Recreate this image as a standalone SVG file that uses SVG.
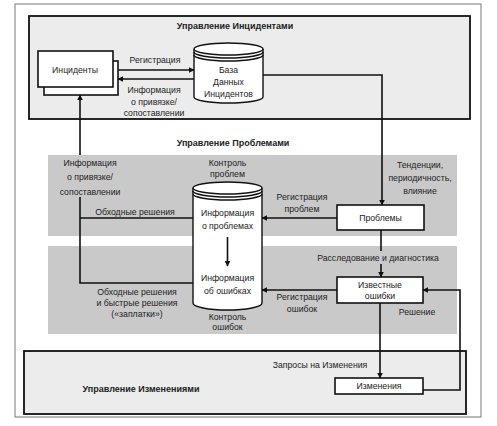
<svg xmlns="http://www.w3.org/2000/svg" width="497" height="426" viewBox="0 0 497 426">
<defs>
<style>
.t{font-family:"Liberation Sans","DejaVu Sans",sans-serif;font-size:8.7px;fill:#222;text-anchor:middle}
.b{font-weight:bold;font-size:9px}
.box{fill:#fff;stroke:#111;stroke-width:1.6}
.zone{fill:#ececec;stroke:#111;stroke-width:1.8}
.band{fill:#c9c9c9}
.ln{fill:none;stroke:#111;stroke-width:1.6}
.cyl{fill:#fff;stroke:#111;stroke-width:1.4}
</style>
<marker id="ah" viewBox="0 0 10 10" refX="9" refY="5" markerWidth="6" markerHeight="6" orient="auto" markerUnits="userSpaceOnUse">
<path d="M0,0 L10,5 L0,10 z" fill="#111"/>
</marker>
</defs>
<rect width="497" height="426" fill="#fff"/>
<rect x="15" y="4" width="466" height="413" fill="none" stroke="#777" stroke-width="1"/>

<g id="incident-mgmt">
<rect class="zone" x="29" y="16" width="441" height="103"/>
<text class="t b" x="235" y="29">Управление Инцидентами</text>
</g>
<g id="problem-mgmt">
<rect class="band" x="48" y="155" width="409" height="81"/>
<rect class="band" x="48" y="246" width="409" height="88"/>
<text class="t b" x="233" y="146">Управление Проблемами</text>
</g>
<g id="change-mgmt">
<rect class="zone" x="24" y="351" width="442" height="63"/>
<text class="t b" x="141" y="392">Управление Изменениями</text>
</g>

<g id="incidents">
<rect class="box" x="44" y="61" width="74" height="34"/>
<rect class="box" x="38" y="51" width="75" height="36"/>
<text class="t" x="75" y="73">Инциденты</text>
</g>

<g id="incident-db">
<path class="cyl" d="M194,49 L194,97 A34.5,6 0 0 0 263,97 L263,49"/>
<ellipse class="cyl" cx="228.5" cy="49" rx="34.5" ry="6"/>
<path class="ln" stroke-width="1" d="M194,52 A34.5,6 0 0 0 263,52 M194,55 A34.5,6 0 0 0 263,55"/>
<text class="t" x="228.5" y="73">База</text>
<text class="t" x="228.5" y="85">Данных</text>
<text class="t" x="228.5" y="97">Инцидентов</text>
</g>

<g id="problem-db">
<path class="cyl" d="M193,188 L193,303 A34.5,7 0 0 0 262,303 L262,188"/>
<ellipse class="cyl" cx="227.5" cy="188" rx="34.5" ry="6"/>
<path class="ln" stroke-width="1" d="M193,191 A34.5,6 0 0 0 262,191 M193,194 A34.5,6 0 0 0 262,194"/>
<text class="t" x="227.5" y="216">Информация</text>
<text class="t" x="227.5" y="229">о проблемах</text>
<text class="t" x="227.5" y="281">Информация</text>
<text class="t" x="227.5" y="294">об ошибках</text>
<line class="ln" x1="227.5" y1="237" x2="227.5" y2="266" marker-end="url(#ah)"/>
</g>

<g id="problems">
<rect class="box" x="337" y="205" width="87" height="25"/>
<text class="t" x="380.5" y="221">Проблемы</text>
</g>

<g id="known-errors">
<rect class="box" x="337" y="277" width="86" height="26"/>
<text class="t" x="380" y="288">Известные</text>
<text class="t" x="380" y="299">ошибки</text>
</g>

<g id="changes">
<rect class="box" x="335" y="378" width="88" height="16"/>
<text class="t" x="379" y="389">Изменения</text>
</g>

<g id="connectors">
<line class="ln" x1="118" y1="70" x2="194" y2="70" marker-end="url(#ah)"/>
<line class="ln" x1="194" y1="79" x2="118" y2="79" marker-end="url(#ah)"/>
<polyline class="ln" points="263,75 382,75 382,205" marker-end="url(#ah)"/>
<line class="ln" x1="337" y1="218" x2="262" y2="218" marker-end="url(#ah)"/>
<line class="ln" x1="381" y1="230" x2="381" y2="251"/>
<line class="ln" x1="381" y1="264" x2="381" y2="277" marker-end="url(#ah)"/>
<line class="ln" x1="337" y1="290" x2="262" y2="290" marker-end="url(#ah)"/>
<line class="ln" x1="380" y1="303" x2="380" y2="378" marker-end="url(#ah)"/>
<polyline class="ln" points="423,390 460,390 460,290 423,290" marker-end="url(#ah)"/>
<polyline class="ln" points="193,218 80,218"/>
<polyline class="ln" points="193,283 80,283 80,197"/>
<line class="ln" x1="80" y1="155" x2="80" y2="95" marker-end="url(#ah)"/>
</g>

<g id="labels">
<text class="t" x="155" y="63">Регистрация</text>
<text class="t" x="154" y="93">Информация</text>
<text class="t" x="154" y="105">о привязке/</text>
<text class="t" x="154" y="116">сопоставлении</text>
<text class="t" x="90" y="166">Информация</text>
<text class="t" x="90" y="180">о привязке/</text>
<text class="t" x="90" y="195">сопоставлении</text>
<text class="t" x="135" y="215">Обходные решения</text>
<text class="t" x="137" y="295">Обходные решения</text>
<text class="t" x="137" y="306">и быстрые решения</text>
<text class="t" x="137" y="317">(«заплатки»)</text>
<text class="t" x="227.5" y="166">Контроль</text>
<text class="t" x="227.5" y="177">проблем</text>
<text class="t" x="227.5" y="320">Контроль</text>
<text class="t" x="227.5" y="330">ошибок</text>
<text class="t" x="302" y="200">Регистрация</text>
<text class="t" x="302" y="212">проблем</text>
<text class="t" x="420" y="168">Тенденции,</text>
<text class="t" x="420" y="181">периодичность,</text>
<text class="t" x="420" y="194">влияние</text>
<text class="t" x="378" y="261">Расследование и диагностика</text>
<text class="t" x="302" y="300">Регистрация</text>
<text class="t" x="302" y="312">ошибок</text>
<text class="t" x="417" y="315">Решение</text>
<text class="t" x="320" y="368">Запросы на Изменения</text>
</g>
</svg>
